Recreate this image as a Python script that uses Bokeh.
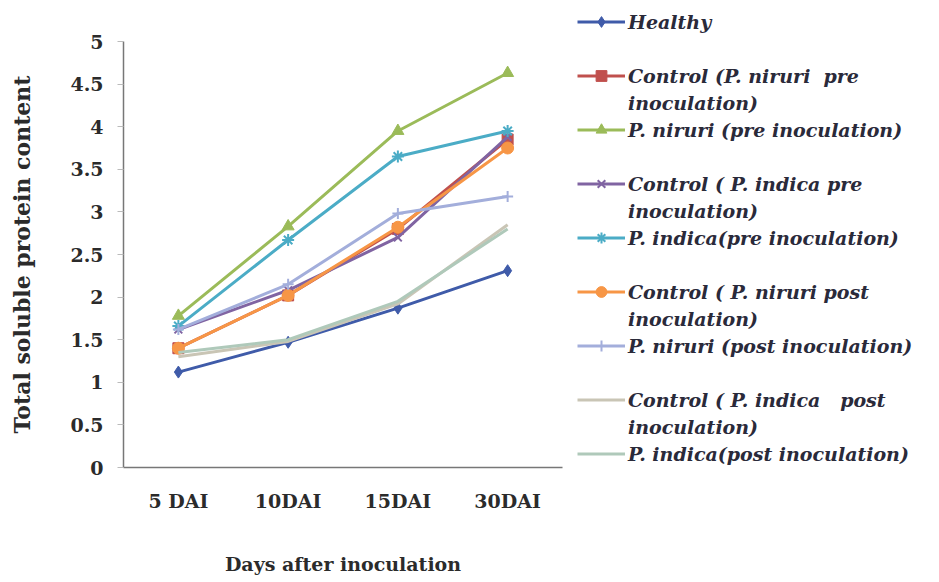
from bokeh.plotting import figure
from bokeh.models import Range1d, Legend, LegendItem, FixedTicker
from bokeh.embed import file_html
from bokeh.resources import INLINE

categories = ["5 DAI", "10DAI", "15DAI", "30DAI"]

healthy = [1.12, 1.47, 1.87, 2.31]
ctrl_niruri_pre = [1.40, 2.02, 2.80, 3.85]
niruri_pre = [1.78, 2.83, 3.95, 4.63]
ctrl_indica_pre = [1.62, 2.08, 2.70, 3.88]
indica_pre = [1.66, 2.67, 3.65, 3.95]
ctrl_niruri_post = [1.40, 2.02, 2.82, 3.75]
niruri_post = [1.62, 2.15, 2.98, 3.18]
ctrl_indica_post = [1.30, 1.48, 1.92, 2.85]
indica_post = [1.35, 1.50, 1.95, 2.80]

series_names = [
    "Healthy",
    "Control (P. niruri  pre\ninoculation)",
    "P. niruri (pre inoculation)",
    "Control ( P. indica pre\ninoculation)",
    "P. indica(pre inoculation)",
    "Control ( P. niruri post\ninoculation)",
    "P. niruri (post inoculation)",
    "Control ( P. indica   post\ninoculation)",
    "P. indica(post inoculation)",
]
series_values = [healthy, ctrl_niruri_pre, niruri_pre, ctrl_indica_pre, indica_pre,
                 ctrl_niruri_post, niruri_post, ctrl_indica_post, indica_post]
colors = ["#3F5BA9", "#C0504D", "#9BBB59", "#8064A2", "#4BACC6",
          "#F79646", "#A3AEDB", "#C9C5B5", "#AFC9BA"]
markers = ["diamond", "square", "triangle", "x", "asterisk",
           "circle", "cross", None, None]
msizes = [12, 11, 12, 11, 12, 12, 11, 0, 0]

FONT = "DejaVu Serif"

# category positions: centre of each category slot
xpos = [i + 0.5 for i in range(len(categories))]

p = figure(frame_width=439, frame_height=426, x_range=Range1d(0, len(categories)),
           y_range=Range1d(0, 5), output_backend="svg", toolbar_location=None,
           min_border_left=123, min_border_right=0, min_border_top=41,
           min_border_bottom=115)
p.outline_line_color = None
p.grid.grid_line_color = None
p.background_fill_color = "white"
p.border_fill_color = "white"

series_renderers = []
for vals, c, m, s in zip(series_values, colors, markers, msizes):
    rs = [p.line(xpos, vals, line_color=c, line_width=3)]
    if m is not None:
        if m in ("x", "asterisk", "cross"):
            rs.append(p.scatter(xpos, vals, marker=m, size=s, line_color=c, line_width=2))
        else:
            rs.append(p.scatter(xpos, vals, marker=m, size=s, fill_color=c, line_color=c))
    series_renderers.append(rs)

# invisible renderer used for continuation / spacer rows in the legend
blank = p.line(xpos, healthy, line_alpha=0)

items = []
for k, (name, rs) in enumerate(zip(series_names, series_renderers)):
    lines = name.split("\n")
    items.append(LegendItem(label=lines[0], renderers=rs))
    for extra in lines[1:]:
        items.append(LegendItem(label=extra, renderers=[blank]))
    if len(lines) == 1 and k < len(series_names) - 1:
        items.append(LegendItem(label=" ", renderers=[blank]))

p.xaxis.ticker = FixedTicker(ticks=xpos)
p.xaxis.major_label_overrides = {x: c for x, c in zip(xpos, categories)}
p.xaxis.minor_tick_line_color = None
p.xaxis.major_tick_line_color = None
p.yaxis.ticker = [0, 0.5, 1, 1.5, 2, 2.5, 3, 3.5, 4, 4.5, 5]
p.yaxis.major_label_overrides = {0: "0", 0.5: "0.5", 1: "1", 1.5: "1.5", 2: "2",
                                 2.5: "2.5", 3: "3", 3.5: "3.5", 4: "4", 4.5: "4.5", 5: "5"}
p.yaxis.minor_tick_line_color = None
p.yaxis.major_tick_in = 0
p.yaxis.major_tick_out = 6
p.yaxis.major_tick_line_color = "#bbbbbb"
p.axis.axis_line_color = "#777777"
p.axis.axis_line_width = 1.5
p.axis.major_label_text_font = FONT
p.axis.major_label_text_font_style = "bold"
p.axis.major_label_text_font_size = "19px"
p.axis.major_label_text_color = "#2b2b2b"
p.yaxis.major_label_standoff = 14
p.xaxis.major_label_standoff = 16
p.axis.axis_label_text_font = FONT
p.axis.axis_label_text_font_style = "bold"
p.axis.axis_label_text_color = "#2b2b2b"
p.xaxis.axis_label_text_font_size = "19px"
p.yaxis.axis_label_text_font_size = "22px"
p.xaxis.axis_label = "Days after inoculation"
p.yaxis.axis_label = "Total soluble protein content"
p.xaxis.axis_label_standoff = 38
p.yaxis.axis_label_standoff = 32

legend = Legend(items=items, location=(15, 0), glyph_width=48, glyph_height=27,
                spacing=0, padding=0, margin=0, label_standoff=3,
                label_height=27, label_text_font=FONT,
                label_text_font_style="bold italic", label_text_font_size="19px",
                label_text_color="#2a2a3a", label_text_baseline="middle",
                border_line_color=None, background_fill_alpha=0)
p.add_layout(legend, "right")

open("out.html", "w").write(file_html(p, INLINE))
